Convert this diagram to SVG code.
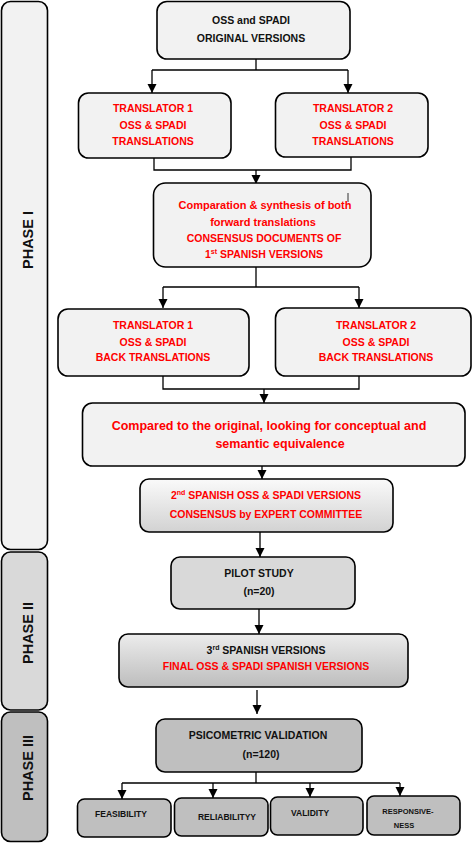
<svg xmlns="http://www.w3.org/2000/svg" width="473" height="843" viewBox="0 0 473 843">
<defs>
<marker id="arr" markerUnits="userSpaceOnUse" markerWidth="10" markerHeight="10" refX="9" refY="5" orient="auto">
<path d="M0,0.5 L9,5 L0,9.5 Z" fill="#000"/>
</marker>
<linearGradient id="g2" x1="0" y1="0" x2="0" y2="1">
<stop offset="0" stop-color="#fafafa"/><stop offset="1" stop-color="#d2d2d2"/>
</linearGradient>
<linearGradient id="g3" x1="0" y1="0" x2="0" y2="1">
<stop offset="0" stop-color="#ececec"/><stop offset="1" stop-color="#bdbdbd"/>
</linearGradient>
<style>
.box{stroke:#000;stroke-width:1.6}
.l1{fill:#f2f2f2}
.l2{fill:#d9d9d9}
.l3{fill:#bfbfbf}
text{font-family:"Liberation Sans",Arial,sans-serif;font-weight:bold;text-anchor:middle;font-size:10.5px}
.k{fill:#111}
.r{fill:#ff0000}
.ph{font-size:14.5px;fill:#111}
.sm{font-size:8.5px}
.xs{font-size:7.5px}
.sup{font-size:7px}
.con path{fill:none;stroke:#000;stroke-width:1.3}
</style>
</defs>

<g id="phase1">
<rect class="box l1" x="1.5" y="1.5" width="46" height="548" rx="9"/>
<text class="ph" transform="translate(32.5,240) rotate(-90)">PHASE I</text>
</g>
<g id="phase2">
<rect class="box l2" x="1.5" y="552" width="46" height="158" rx="9"/>
<text class="ph" transform="translate(32.5,633) rotate(-90)">PHASE II</text>
</g>
<g id="phase3">
<rect class="box l3" x="1.5" y="712" width="46" height="129.5" rx="9"/>
<text class="ph" transform="translate(32.5,768) rotate(-90)">PHASE III</text>
</g>

<g class="con" id="connectors">
<path d="M256,59 V70 M152,70 H348"/>
<path d="M152,70 V93" marker-end="url(#arr)"/>
<path d="M348,70 V93" marker-end="url(#arr)"/>
<path d="M154,158 V170 H351 V157"/>
<path d="M256,170 V184" marker-end="url(#arr)"/>
<path d="M256,267 V287 M163,287 H359"/>
<path d="M163,287 V308" marker-end="url(#arr)"/>
<path d="M359,287 V308" marker-end="url(#arr)"/>
<path d="M163,376 V389 H359 V376"/>
<path d="M264,389 V403" marker-end="url(#arr)"/>
<path d="M262,466 V479" marker-end="url(#arr)"/>
<path d="M260,532 V557" marker-end="url(#arr)"/>
<path d="M259,609 V634" marker-end="url(#arr)"/>
<path d="M257,690 V714" marker-end="url(#arr)"/>
<path d="M256,772 V783 M122,783 H400"/>
<path d="M122,783 V799" marker-end="url(#arr)"/>
<path d="M213,783 V798" marker-end="url(#arr)"/>
<path d="M310,783 V797" marker-end="url(#arr)"/>
<path d="M400,783 V796" marker-end="url(#arr)"/>
</g>

<g id="original">
<rect class="box l1" x="157" y="1.5" width="193" height="57.5" rx="10"/>
<text class="k" x="251" y="24">OSS and SPADI</text>
<text class="k" x="251" y="42">ORIGINAL VERSIONS</text>
</g>

<g id="translator1">
<rect class="box l1" x="78.5" y="93" width="152.5" height="65" rx="10"/>
<text class="r" x="153" y="112">TRANSLATOR 1</text>
<text class="r" x="153" y="129">OSS &amp; SPADI</text>
<text class="r" x="153" y="145">TRANSLATIONS</text>
</g>

<g id="translator2">
<rect class="box l1" x="275.5" y="93" width="152.5" height="64" rx="10"/>
<text class="r" x="353" y="112">TRANSLATOR 2</text>
<text class="r" x="353" y="129">OSS &amp; SPADI</text>
<text class="r" x="353" y="145">TRANSLATIONS</text>
</g>

<g id="synthesis">
<rect class="box l1" x="153.5" y="183" width="217.5" height="84" rx="12"/>
<path d="M348,193 V202" stroke="#000" stroke-width="0.8"/>
<text class="r" x="265" y="209" style="font-size:11px">Comparation &amp; synthesis of both</text>
<text class="r" x="263" y="226" style="font-size:11px">forward  translations</text>
<text class="r" x="264" y="242">CONSENSUS DOCUMENTS OF</text>
<text class="r" x="264" y="258">1<tspan class="sup" dy="-4">st</tspan><tspan dy="4"> SPANISH VERSIONS</tspan></text>
</g>

<g id="back1">
<rect class="box l1" x="58" y="309" width="191" height="67" rx="10"/>
<text class="r" x="153" y="329">TRANSLATOR 1</text>
<text class="r" x="153" y="346">OSS &amp; SPADI</text>
<text class="r" x="153" y="361">BACK TRANSLATIONS</text>
</g>

<g id="back2">
<rect class="box l1" x="275.5" y="308" width="195.5" height="68" rx="10"/>
<text class="r" x="376" y="329">TRANSLATOR 2</text>
<text class="r" x="376" y="346">OSS &amp; SPADI</text>
<text class="r" x="376" y="361">BACK TRANSLATIONS</text>
</g>

<g id="compared">
<rect class="box l1" x="82.5" y="403" width="382.5" height="63" rx="10"/>
<text class="r" x="269" y="430" style="font-size:12.5px">Compared to the original, looking for conceptual and</text>
<text class="r" x="280" y="448" style="font-size:12.5px">semantic equivalence</text>
</g>

<g id="spanish2">
<rect class="box" fill="url(#g2)" x="140" y="479" width="253" height="53" rx="9"/>
<text class="r" x="266" y="499">2<tspan class="sup" dy="-4">nd</tspan><tspan dy="4"> SPANISH OSS &amp; SPADI VERSIONS</tspan></text>
<text class="r" x="266" y="518">CONSENSUS by EXPERT COMMITTEE</text>
</g>

<g id="pilot">
<rect class="box l2" x="171" y="557" width="184" height="52" rx="9"/>
<text class="k" x="259" y="577">PILOT STUDY</text>
<text class="k" x="259" y="595">(n=20)</text>
</g>

<g id="spanish3">
<rect class="box" fill="url(#g3)" x="119" y="634" width="289" height="53" rx="9"/>
<text class="k" x="266" y="654">3<tspan class="sup" dy="-4">rd</tspan><tspan dy="4"> SPANISH VERSIONS</tspan></text>
<text class="r" x="266" y="670">FINAL OSS &amp; SPADI SPANISH VERSIONS</text>
</g>

<g id="psicometric">
<rect class="box l3" x="156" y="719" width="206" height="53" rx="9"/>
<text class="k" x="258" y="739">PSICOMETRIC VALIDATION</text>
<text class="k" x="261" y="758">(n=120)</text>
</g>

<g id="feasibility">
<rect class="box l3" x="77.5" y="799" width="93.5" height="38" rx="7"/>
<text class="k sm" x="121" y="817">FEASIBILITY</text>
</g>
<g id="reliability">
<rect class="box l3" x="174.5" y="798" width="93.5" height="38" rx="7"/>
<text class="k sm" x="227" y="820">RELIABILITYY</text>
</g>
<g id="validity">
<rect class="box l3" x="270.5" y="797" width="92.5" height="38" rx="7"/>
<text class="k sm" x="310" y="816">VALIDITY</text>
</g>
<g id="responsiveness">
<rect class="box l3" x="367" y="796" width="93" height="39" rx="7"/>
<text class="k xs" x="408" y="814">RESPONSIVE-</text>
<text class="k xs" x="404" y="828">NESS</text>
</g>
</svg>
